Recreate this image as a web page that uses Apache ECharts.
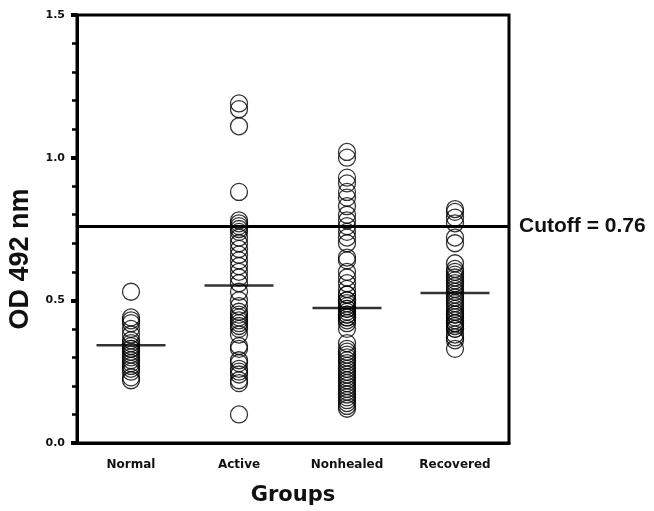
<!DOCTYPE html>
<html>
<head>
<meta charset="utf-8">
<script src="https://cdn.jsdelivr.net/npm/echarts@6/dist/echarts.min.js"></script>
<style>
html,body{margin:0;padding:0;background:#fff;}
#chart{width:654px;height:511px;}
</style>
</head>
<body>
<div id="chart"></div>
<script>
const categories = ['Normal', 'Active', 'Nonhealed', 'Recovered'];
const normalValues = [0.53, 0.44, 0.43, 0.42, 0.40, 0.38, 0.36, 0.35, 0.34, 0.33, 0.33, 0.32, 0.31, 0.30, 0.29, 0.28, 0.27, 0.26, 0.25, 0.23, 0.22];
const activeValues = [1.19, 1.17, 1.11, 0.88, 0.78, 0.77, 0.76, 0.75, 0.74, 0.72, 0.70, 0.68, 0.66, 0.64, 0.62, 0.60, 0.58, 0.56, 0.53, 0.50, 0.48, 0.46, 0.45, 0.44, 0.43, 0.42, 0.41, 0.40, 0.38, 0.34, 0.33, 0.29, 0.28, 0.26, 0.25, 0.24, 0.22, 0.21, 0.10];
const nonhealedValues = [1.02, 1.00, 0.93, 0.91, 0.88, 0.86, 0.83, 0.80, 0.78, 0.76, 0.74, 0.72, 0.70, 0.65, 0.64, 0.60, 0.58, 0.56, 0.54, 0.52, 0.52, 0.50, 0.50, 0.49, 0.48, 0.47, 0.47, 0.46, 0.45, 0.45, 0.44, 0.44, 0.43, 0.42, 0.40, 0.35, 0.33, 0.32, 0.31, 0.30, 0.29, 0.28, 0.27, 0.26, 0.25, 0.24, 0.23, 0.22, 0.21, 0.20, 0.19, 0.18, 0.17, 0.16, 0.15, 0.14, 0.13, 0.12];
const recoveredValues = [0.82, 0.81, 0.79, 0.77, 0.72, 0.70, 0.63, 0.61, 0.60, 0.59, 0.58, 0.57, 0.56, 0.55, 0.54, 0.53, 0.52, 0.51, 0.50, 0.49, 0.48, 0.47, 0.46, 0.45, 0.45, 0.44, 0.43, 0.42, 0.42, 0.41, 0.40, 0.40, 0.38, 0.37, 0.36, 0.33];
const groupMeans = [0.343, 0.552, 0.473, 0.526];
const cutoffValue = 0.76;
const cutoffLabel = 'Cutoff = 0.76';
const yTickLabels = ['0.0', '0.5', '1.0', '1.5'];
const xAxisTitle = 'Groups';
const yAxisTitle = 'OD 492 nm';

const groups = [normalValues, activeValues, nonhealedValues, recoveredValues];
const pointData = [];
groups.forEach((vals, i) => vals.forEach(v => pointData.push([i, v])));
const meanData = groupMeans.map((m, i) => [i, m]);

const chart = echarts.init(document.getElementById('chart'), null, {renderer: 'canvas'});
chart.setOption({
  animation: false,
  backgroundColor: '#fff',
  grid: {left: 77, right: 145, top: 15, bottom: 66, show: true, borderColor: '#000', borderWidth: 3, backgroundColor: 'transparent'},
  xAxis: {
    type: 'category',
    data: categories,
    boundaryGap: true,
    axisLine: {lineStyle: {color: '#000', width: 3}},
    axisTick: {alignWithLabel: true, length: 6, lineStyle: {color: '#000', width: 3}},
    axisLabel: {margin: 16, color: '#111', fontFamily: 'DejaVu Sans', fontWeight: 'bold', fontSize: 12},
    name: xAxisTitle,
    nameLocation: 'middle',
    nameGap: 42,
    nameTextStyle: {color: '#111', fontFamily: 'DejaVu Sans', fontWeight: 'bold', fontSize: 21},
    splitLine: {show: false}
  },
  yAxis: {
    type: 'value',
    min: 0, max: 1.5, interval: 0.5,
    axisLine: {show: true, lineStyle: {color: '#000', width: 3}},
    axisTick: {show: true, length: 6, lineStyle: {color: '#000', width: 4}},
    minorTick: {show: true, splitNumber: 5, length: 5, lineStyle: {color: '#000', width: 2.5}},
    axisLabel: {margin: 12, color: '#111', fontFamily: 'DejaVu Sans', fontWeight: 'bold', fontSize: 11,
      formatter: v => yTickLabels[Math.round(v / 0.5)]},
    splitLine: {show: false}
  },
  graphic: [{
    type: 'text', x: 21, y: 259, rotation: Math.PI / 2,
    style: {text: yAxisTitle, fill: '#111', font: 'bold 27px "Liberation Sans"', align: 'center', verticalAlign: 'middle'}
  }],
  series: [{
    type: 'scatter',
    data: pointData,
    symbol: 'circle',
    symbolSize: 17,
    itemStyle: {color: 'rgba(255,255,255,0)', borderColor: '#000', borderWidth: 1.3},
    z: 2,
    markLine: {
      silent: true,
      symbol: ['none', 'none'],
      lineStyle: {color: '#000', width: 3, type: 'solid'},
      label: {show: true, position: 'end', distance: 10, formatter: cutoffLabel, color: '#111', fontFamily: 'Liberation Sans', fontWeight: 'bold', fontSize: 21},
      data: [{yAxis: cutoffValue}]
    }
  }, {
    type: 'scatter',
    data: meanData,
    symbol: 'rect',
    symbolSize: [69, 2.5],
    itemStyle: {color: '#000'},
    z: 3
  }]
});
</script>
</body>
</html>
